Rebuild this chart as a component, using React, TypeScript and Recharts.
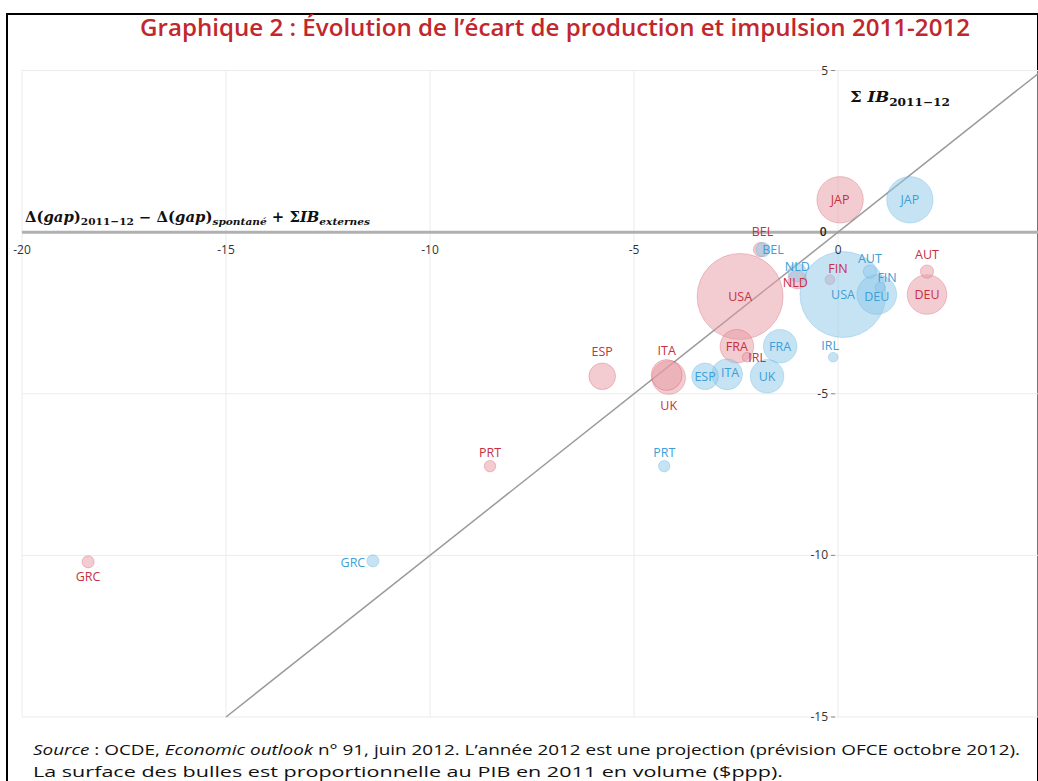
import React from "react";
import {
  ScatterChart,
  Scatter,
  XAxis,
  YAxis,
  CartesianGrid,
  ReferenceLine,
  ReferenceDot,
} from "recharts";

// Pays et PIB 2011 (Mds $ppp) : taille des bulles
const countries = ["USA", "JAP", "DEU", "FRA", "UK", "ITA", "ESP", "NLD", "BEL", "AUT", "FIN", "IRL", "PRT", "GRC"];
const gdp2011 = [15100, 4400, 3200, 2300, 2300, 1950, 1450, 700, 420, 360, 200, 190, 270, 300];

// série rouge
const redX = [-2.4, 0.05, 2.18, -2.48, -4.15, -4.2, -5.78, -1.0, -1.9, 2.18, -0.2, -2.23, -8.53, -18.38];
const redY = [-1.99, 1.0, -1.93, -3.53, -4.5, -4.42, -4.46, -1.47, -0.54, -1.22, -1.47, -3.87, -7.24, -10.2];

// série bleue
const blueX = [0.12, 1.76, 0.95, -1.42, -1.74, -2.72, -3.26, -1.0, -1.84, 0.78, 1.03, -0.12, -4.26, -11.4];
const blueY = [-1.93, 1.0, -1.93, -3.53, -4.46, -4.4, -4.46, -1.25, -0.54, -1.22, -1.71, -3.87, -7.24, -10.17];

const xTicks = [-20, -15, -10, -5, 0];
const yTicks = [-15, -10, -5, 0, 5];
const diagonal = [-15, 4.9];

// décalage des étiquettes (px), le reste est centré sur la bulle
const redLabelOffset: Record<string, [number, number]> = {
  UK: [0, 28], ITA: [0, -25], ESP: [0, -25], BEL: [2, -18], AUT: [0, -17],
  FIN: [8, -11], IRL: [10, 0], PRT: [0, -14], GRC: [0, 15], NLD: [-2, 3],
};
const blueLabelOffset: Record<string, [number, number]> = {
  FIN: [7, -10], AUT: [0, -13], ITA: [3, -2], NLD: [0, -6], BEL: [10, 0],
  IRL: [-3, -12], PRT: [0, -14], GRC: [-20, 2], DEU: [0, 2],
};

const RED = "#c8303f";
const BLUE = "#3d9fd6";

const redData = countries.map((c, i) => ({ name: c, x: redX[i], y: redY[i], gdp: gdp2011[i] }));
const blueData = countries.map((c, i) => ({ name: c, x: blueX[i], y: blueY[i], gdp: gdp2011[i] }));

const bubble = (fill: string, stroke: string) => (p: any) => {
  const r = 0.35 * Math.sqrt(p.payload.gdp);
  return <circle cx={p.cx} cy={p.cy} r={r} fill={fill} fillOpacity={0.5} stroke={stroke} strokeOpacity={0.25} strokeWidth={1} />;
};

const label = (color: string, offsets: Record<string, [number, number]>) => (p: any) => {
  const [dx, dy] = offsets[p.payload.name] || [0, 0];
  return (
    <text x={p.cx + dx} y={p.cy + dy} fill={color} fontSize={12.5} fontFamily="Open Sans" textAnchor="middle" dominantBaseline="central">
      {p.payload.name}
    </text>
  );
};

const xTickLabel = (v: number) => (p: any) => {
  const vb = p.viewBox;
  const cx = vb.x + vb.width / 2;
  const cy = vb.y + vb.height / 2;
  return (
    <text x={cx} y={cy + 22} fill="#333" fontSize={12} fontFamily="Open Sans" textAnchor="middle">
      {v}
    </text>
  );
};

const yTickLabel = (v: number) => (p: any) => {
  const vb = p.viewBox;
  const cx = vb.x + vb.width / 2;
  const cy = vb.y + vb.height / 2;
  if (v === 0) {
    return (
      <text x={cx - 15} y={cy + 4} fill="#222" fontSize={12} fontFamily="Open Sans" textAnchor="middle" fontWeight={600}>
        0
      </text>
    );
  }
  return (
    <g>
      <text x={cx - 10} y={cy + 4} fill="#333" fontSize={12} fontFamily="Open Sans" textAnchor="end">
        {v}
      </text>
      <line x1={cx - 7} x2={cx - 3} y1={cy} y2={cy} stroke="#888" strokeWidth={1} />
    </g>
  );
};

export default function App() {
  return (
    <div style={{ position: "absolute", left: 0, top: 0, width: 1038, height: 781, overflow: "hidden", background: "#fff" }}>
      <div style={{ position: "absolute", left: 6, top: 13, width: 1029, height: 800, border: "2px solid #000" }} />
      <div style={{ position: "absolute", left: 0, top: 0 }}>
        <ScatterChart width={1038} height={781} margin={{ top: 70.5, right: 0, bottom: 64, left: 22 }}>
          <CartesianGrid stroke="#ebebeb" strokeWidth={1} />
          <XAxis type="number" dataKey="x" domain={[-20, 4.9]} ticks={xTicks} hide />
          <YAxis type="number" dataKey="y" domain={[-15, 5]} ticks={yTicks} hide />
          <ReferenceLine y={0} stroke="#b0b0b0" strokeWidth={3} />
          <ReferenceLine
            segment={[{ x: diagonal[0], y: diagonal[0] }, { x: diagonal[1], y: diagonal[1] }]}
            stroke="#9a9a9a"
            strokeWidth={1.5}
          />
          <Scatter data={redData} shape={bubble("#e89aa4", "#c8303f")} isAnimationActive={false} />
          <Scatter data={blueData} shape={bubble("#8ec8ea", "#3d9fd6")} isAnimationActive={false} />
          <Scatter data={redData} shape={label(RED, redLabelOffset)} isAnimationActive={false} />
          <Scatter data={blueData} shape={label(BLUE, blueLabelOffset)} isAnimationActive={false} />
          {xTicks.map((v) => (
            <ReferenceDot key={"x" + v} x={v} y={0} r={0} fill="none" stroke="none" label={xTickLabel(v)} />
          ))}
          {yTicks.map((v) => (
            <ReferenceDot key={"y" + v} x={0} y={v} r={0} fill="none" stroke="none" label={yTickLabel(v)} />
          ))}
        </ScatterChart>
      </div>
      <svg width={1038} height={781} style={{ position: "absolute", left: 0, top: 0, pointerEvents: "none" }}>
        <text x={140} y={36} fill="#c1272d" fontSize={24} fontWeight={600} fontFamily="Open Sans" textLength={830} lengthAdjust="spacingAndGlyphs">
          Graphique 2 : Évolution de l’écart de production et impulsion 2011-2012
        </text>
        <text x={25} y={222} fill="#111" fontSize={14} fontWeight={700} fontFamily="DejaVu Serif" textLength={345} lengthAdjust="spacingAndGlyphs">
          <tspan>Δ(</tspan>
          <tspan fontStyle="italic">gap</tspan>
          <tspan>)</tspan>
          <tspan fontSize={10} dy={3}>2011−12</tspan>
          <tspan dy={-3}> − Δ(</tspan>
          <tspan fontStyle="italic">gap</tspan>
          <tspan>)</tspan>
          <tspan fontSize={10} dy={3} fontStyle="italic">spontané</tspan>
          <tspan dy={-3}> + Σ</tspan>
          <tspan fontStyle="italic">IB</tspan>
          <tspan fontSize={10} dy={3} fontStyle="italic">externes</tspan>
        </text>
        <text x={850} y={102} fill="#111" fontSize={15} fontWeight={700} fontFamily="DejaVu Serif" textLength={100} lengthAdjust="spacingAndGlyphs">
          <tspan>Σ </tspan>
          <tspan fontStyle="italic">IB</tspan>
          <tspan fontSize={11} dy={4}>2011−12</tspan>
        </text>
        <text x={33} y={755} fill="#111" fontSize={15} fontFamily="Open Sans" textLength={987} lengthAdjust="spacingAndGlyphs">
          <tspan fontStyle="italic">Source</tspan>
          <tspan> : OCDE, </tspan>
          <tspan fontStyle="italic">Economic outlook</tspan>
          <tspan> n° 91, juin 2012. L’année 2012 est une projection (prévision OFCE octobre 2012).</tspan>
        </text>
        <text x={33} y={777} fill="#111" fontSize={15} fontFamily="Open Sans" textLength={750} lengthAdjust="spacingAndGlyphs">
          La surface des bulles est proportionnelle au PIB en 2011 en volume ($ppp).
        </text>
      </svg>
    </div>
  );
}
